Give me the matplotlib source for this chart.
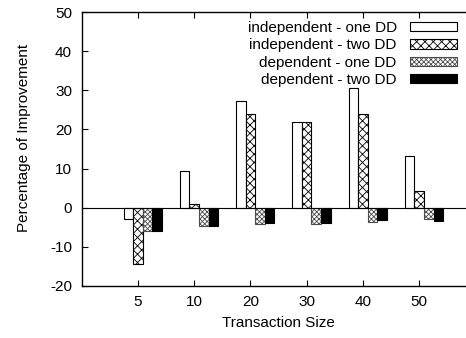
import matplotlib
matplotlib.use('Agg')
import matplotlib.pyplot as plt
import numpy as np

plt.rcParams['font.family'] = ['Liberation Sans', 'DejaVu Sans']
plt.rcParams['hatch.linewidth'] = 0.6
plt.rcParams['axes.unicode_minus'] = False

# data
sizes = ['5', '10', '20', '30', '40', '50']
indep_one = [-3.0, 9.3, 27.2, 21.8, 30.5, 13.3]
indep_two = [-14.5, 1.0, 23.9, 22.0, 23.9, 4.3]
dep_one = [-5.9, -4.8, -4.3, -4.1, -3.6, -2.9]
dep_two = [-5.9, -4.6, -3.9, -3.9, -3.3, -3.4]

series = [indep_one, indep_two, dep_one, dep_two]
labels = ['independent - one DD', 'independent - two DD',
          'dependent - one DD', 'dependent - two DD']
fills = ['white', 'white', 'white', 'black']
edges = ['black', 'black', '0.3', 'black']
hatches = [None, 'xxxx', 'xxxxxxx', None]

fig = plt.figure(figsize=(4.66, 3.38), dpi=100)
ax = fig.add_axes([0.1753, 0.1547, 0.845, 0.809])

x = np.arange(1, len(sizes) + 1)
w = 0.17
offsets = [-0.17, 0.0, 0.17, 0.34]
for vals, lab, fc, ec, h, off in zip(series, labels, fills, edges, hatches, offsets):
    ax.bar(x + off, vals, w, color=fc, edgecolor=ec, hatch=h,
           linewidth=0.8, label=lab)

ax.axhline(0, color='black', linewidth=0.8)
ax.set_xlim(0, 7)
ax.set_ylim(-20, 50)
ax.set_xticks(x)
ax.set_xticklabels(sizes)
ax.set_yticks(np.arange(-20, 51, 10))
ax.tick_params(direction='in', top=True, right=True, labelsize=11, length=4, pad=7)
for s in ax.spines.values():
    s.set_linewidth(1)

ax.set_xlabel('Transaction Size', fontsize=11, labelpad=5)
ax.set_ylabel('Percentage of Improvement', fontsize=11)
# label sits a bit above the axis centre, as in the original
ax.yaxis.set_label_coords((31 / 466 - 0.1753) / 0.845, 0.54)

ax.legend(loc='upper right', bbox_to_anchor=(457 / 466, 1 - 21 / 338),
          bbox_transform=fig.transFigure, frameon=False, markerfirst=False,
          fontsize=11, handlelength=3.1, handleheight=0.55,
          handletextpad=0.85, labelspacing=0.22, borderpad=0, borderaxespad=0)

plt.savefig('out.png', dpi=100)
